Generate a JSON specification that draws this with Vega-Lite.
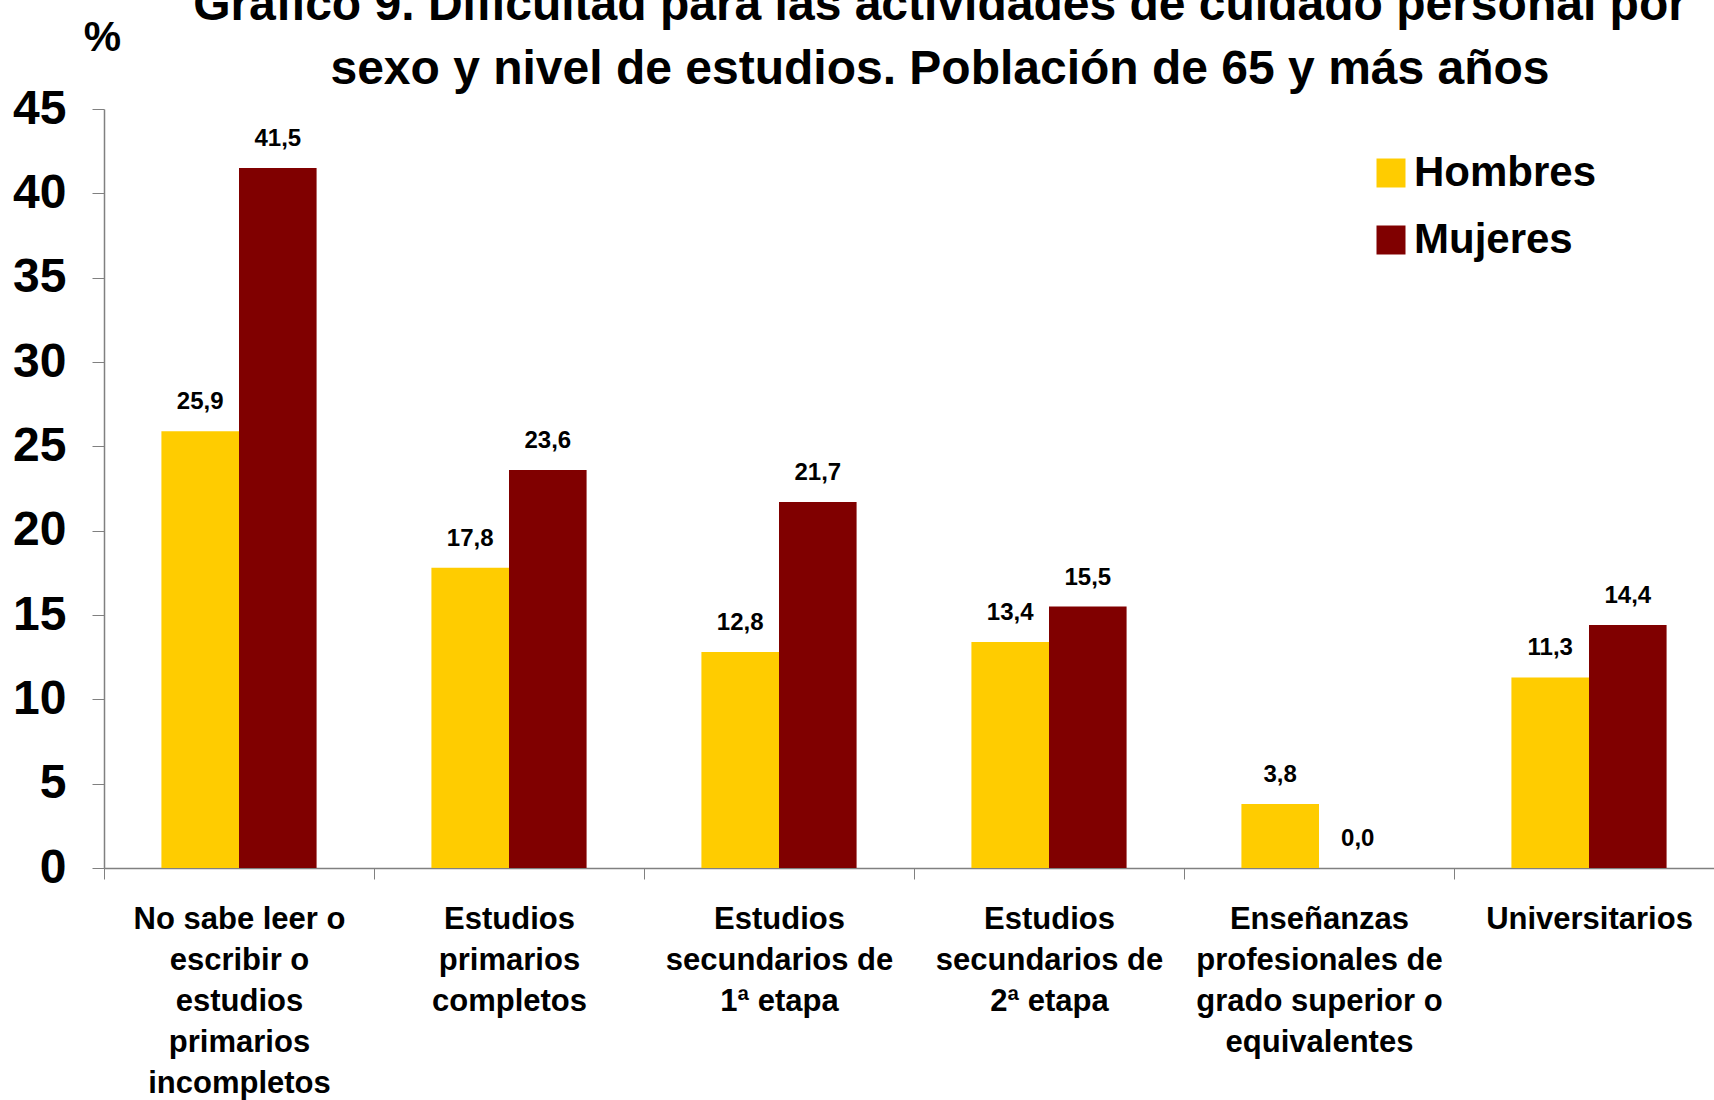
{
  "$schema": "https://vega.github.io/schema/vega-lite/v6.json",
  "width": 1620,
  "height": 759,
  "autosize": {"type": "none"},
  "padding": {"left": 104, "top": 109, "right": -10, "bottom": 232},
  "background": "white",
  "config": {
    "locale": {"number": {"decimal": ",", "thousands": ".", "grouping": [3], "currency": ["", " €"]}},
    "view": {"stroke": null},
    "font": "Liberation Sans"
  },
  "title": {
    "text": ["Gráfico 9. Dificultad para las actividades de cuidado personal por", "sexo y nivel de estudios. Población de 65 y más años"],
    "fontSize": 48,
    "fontWeight": "bold",
    "color": "black",
    "anchor": "middle",
    "frame": "group",
    "dx": 26,
    "lineHeight": 64,
    "offset": -78
  },
  "data": {
    "values": [
      {"nivel": "No sabe leer o|escribir o|estudios|primarios|incompletos", "sexo": "Hombres", "valor": 25.9},
      {"nivel": "No sabe leer o|escribir o|estudios|primarios|incompletos", "sexo": "Mujeres", "valor": 41.5},
      {"nivel": "Estudios|primarios|completos", "sexo": "Hombres", "valor": 17.8},
      {"nivel": "Estudios|primarios|completos", "sexo": "Mujeres", "valor": 23.6},
      {"nivel": "Estudios|secundarios de|1ª etapa", "sexo": "Hombres", "valor": 12.8},
      {"nivel": "Estudios|secundarios de|1ª etapa", "sexo": "Mujeres", "valor": 21.7},
      {"nivel": "Estudios|secundarios de|2ª etapa", "sexo": "Hombres", "valor": 13.4},
      {"nivel": "Estudios|secundarios de|2ª etapa", "sexo": "Mujeres", "valor": 15.5},
      {"nivel": "Enseñanzas|profesionales de|grado superior o|equivalentes", "sexo": "Hombres", "valor": 3.8},
      {"nivel": "Enseñanzas|profesionales de|grado superior o|equivalentes", "sexo": "Mujeres", "valor": 0.0},
      {"nivel": "Universitarios", "sexo": "Hombres", "valor": 11.3},
      {"nivel": "Universitarios", "sexo": "Mujeres", "valor": 14.4}
    ]
  },
  "encoding": {
    "x": {
      "field": "nivel",
      "type": "nominal",
      "sort": null,
      "scale": {"paddingInner": 0, "paddingOuter": 0},
      "axis": {
        "title": null,
        "orient": "bottom",
        "labelExpr": "split(datum.label, '|')",
        "labelFontSize": 31,
        "labelFontWeight": "bold",
        "labelColor": "black",
        "labelAngle": 0,
        "labelBaseline": "top",
        "labelPadding": 25,
        "labelLineHeight": 41,
        "labelOverlap": false,
        "labelBound": false,
        "labelLimit": 0,
        "tickBand": "extent",
        "tickSize": 11,
        "tickColor": "#808080",
        "domainColor": "#808080",
        "domainWidth": 1.5,
        "grid": false
      }
    },
    "xOffset": {
      "field": "sexo",
      "type": "nominal",
      "sort": ["Hombres", "Mujeres"],
      "scale": {"paddingInner": 0, "paddingOuter": 0.74}
    },
    "y": {
      "field": "valor",
      "type": "quantitative",
      "scale": {"domain": [0, 45], "nice": false},
      "axis": {
        "title": "%",
        "titleAngle": 0,
        "titleX": -2,
        "titleY": -59,
        "titleAlign": "center",
        "titleBaseline": "alphabetic",
        "titleFontSize": 42,
        "titleFontWeight": "bold",
        "titleColor": "black",
        "values": [0, 5, 10, 15, 20, 25, 30, 35, 40, 45],
        "labelFontSize": 48,
        "labelFontWeight": "bold",
        "labelColor": "black",
        "labelPadding": 26,
        "tickSize": 12,
        "tickColor": "#808080",
        "domainColor": "#808080",
        "domainWidth": 1.5,
        "grid": false
      }
    }
  },
  "layer": [
    {
      "mark": {"type": "bar"},
      "encoding": {
        "color": {
          "field": "sexo",
          "type": "nominal",
          "scale": {"domain": ["Hombres", "Mujeres"], "range": ["#FFCC00", "#800000"]},
          "legend": {
            "title": null,
            "orient": "none",
            "legendX": 1266,
            "legendY": 43,
            "padding": 0,
            "symbolType": "square",
            "symbolSize": 841,
            "symbolStrokeWidth": 0,
            "labelFontSize": 42,
            "labelFontWeight": "bold",
            "labelColor": "black",
            "labelOffset": 2,
            "labelLimit": 0,
            "rowPadding": 25
          }
        }
      }
    },
    {
      "mark": {"type": "text", "baseline": "alphabetic", "dy": -22, "fontSize": 24, "fontWeight": "bold", "color": "black"},
      "encoding": {
        "text": {"field": "valor", "type": "quantitative", "format": ".1f"}
      }
    }
  ]
}
